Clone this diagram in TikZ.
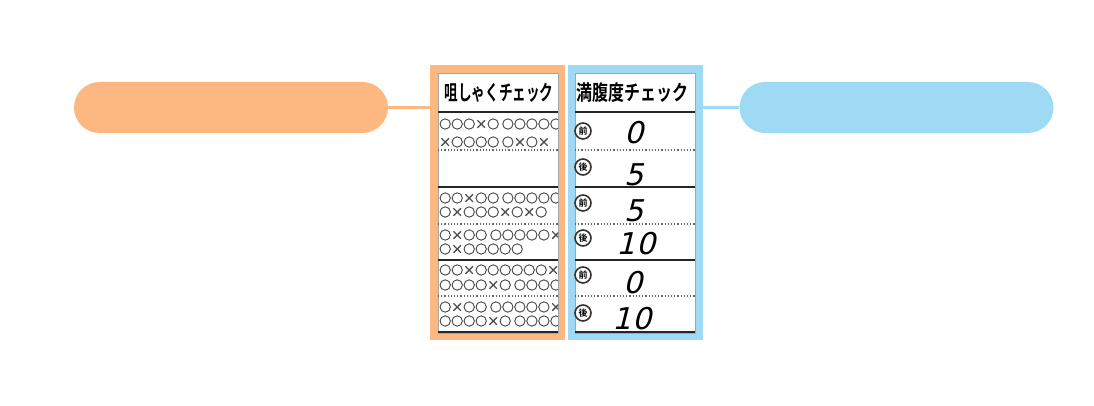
\documentclass[tikz,border=0pt]{standalone}
\usepackage{fontspec}
\newfontfamily\jp{Noto Sans CJK JP}[BoldFont={Noto Sans CJK JP Bold}]
\newfontfamily\tickfont{Noto Sans CJK JP}[FakeBold=3]
\newfontfamily\hand{DejaVu Sans}[FakeSlant=0.25]
\definecolor{chewor}{RGB}{253,184,130}
\definecolor{fullbl}{RGB}{158,218,243}
\tikzset{pill/.style = {rectangle, rounded corners=25.5pt, minimum width=314pt, minimum height=51pt, inner sep=0pt},
         cardframe/.style = {draw, fill=white, line width=8pt, rectangle, minimum width=127pt, minimum height=267pt, inner sep=0pt},
         panel/.style = {draw=black!35, line width=0.6pt, fill=white, rectangle, minimum width=120pt, minimum height=260pt, inner sep=0pt},
         headtext/.style = {font=\jp\bfseries\fontsize{21}{21}\selectfont, inner sep=0pt},
         ticks/.style = {anchor=west, font=\tickfont\fontsize{12}{12}\selectfont, inner sep=0pt, black!70},
         when/.style = {draw=black!80, line width=1.6pt, circle, minimum size=16pt, inner sep=0pt, font=\jp\bfseries\fontsize{9}{9}\selectfont},
         score/.style = {font=\hand\fontsize{30}{30}\selectfont, inner sep=0pt},
         thickrule/.style = {line width=2.5pt, black!85},
         dotrule/.style = {line width=1.2pt, black!60, dotted}}
\begin{document}
\begin{tikzpicture}[x=1pt,y=-1pt]
        \useasboundingbox (0,0) rectangle (1094,406);

        \node[pill, fill=chewor] (chew) at (231,107.5) {};
        \node[pill, fill=fullbl] (full) at (896.5,107.5) {};
        \node[cardframe, draw=chewor] (chewcard) at (497.5,202.5) {};
        \node[cardframe, draw=fullbl] (fullcard) at (635,202.5) {};
        \node[panel] (chewpanel) at (498,203) {};
        \node[panel] (fullpanel) at (635,203) {};

        \draw[chewor, line width=3pt] (chew.east) -- (chew.east -| chewcard.west);
        \draw[fullbl, line width=3pt] (full.west) -- (full.west -| fullcard.east);

        \node[headtext, xscale=0.65] (chewhead) at (499,93) {咀しゃくチェック};
        \node[headtext, xscale=0.76] (fullhead) at (632.5,93) {満腹度チェック};

        % table rules
        \draw[thickrule] (438,112)--(558,112);
        \draw[thickrule] (438,187)--(558,187);
        \draw[thickrule] (438,260)--(558,260);
        \draw[thickrule] (438,332)--(558,332);
        \draw[dotrule] (438,150)--(558,150);
        \draw[dotrule] (438,224)--(558,224);
        \draw[dotrule] (438,296)--(558,296);
        \draw[thickrule] (575,112)--(695,112);
        \draw[thickrule] (575,187)--(695,187);
        \draw[thickrule] (575,260)--(695,260);
        \draw[thickrule] (575,332)--(695,332);
        \draw[dotrule] (575,150)--(695,150);
        \draw[dotrule] (575,224)--(695,224);
        \draw[dotrule] (575,296)--(695,296);

        \begin{scope}
        \clip (438,73) rectangle (558,333);
        \node[ticks] (row1a) at (439,124) {○○○×○ ○○○○○};
        \node[ticks] (row1b) at (439,142) {×○○○○ ○×○×};
        \node[ticks] (row3a) at (439,198) {○○×○○ ○○○○○};
        \node[ticks] (row3b) at (439,212) {○×○○○×○×○};
        \node[ticks] (row4a) at (439,235) {○×○○ ○○○○○×};
        \node[ticks] (row4b) at (439,249) {○×○○○○○};
        \node[ticks] (row5a) at (439,270) {○○×○○○○○○×};
        \node[ticks] (row5b) at (439,285) {○○○○×○ ○○○○};
        \node[ticks] (row6a) at (439,307) {○×○○ ○○○○○×};
        \node[ticks] (row6b) at (439,321) {○○○○×○ ○○○○};
        \end{scope}

        \node[when] (pre1) at (583,131) {前};
        \node[when] (post1) at (583,167) {後};
        \node[when] (pre2) at (583,203) {前};
        \node[when] (post2) at (583,238) {後};
        \node[when] (pre3) at (583,275) {前};
        \node[when] (post3) at (583,313) {後};

        \node[score] (val1) at (634,133) {0};
        \node[score] (val2) at (634,175) {5};
        \node[score] (val3) at (634,211) {5};
        \node[score] (val4) at (636,244) {10};
        \node[score] (val5) at (633,283) {0};
        \node[score] (val6) at (632,319) {10};
\end{tikzpicture}
\end{document}
